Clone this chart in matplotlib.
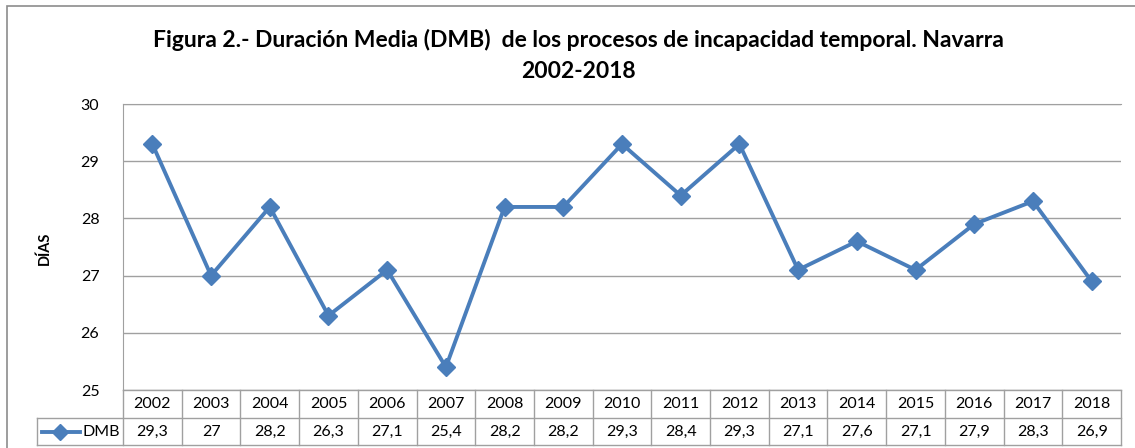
import matplotlib.pyplot as plt
from matplotlib.lines import Line2D
from matplotlib.patches import Rectangle

anios = ['2002', '2003', '2004', '2005', '2006', '2007', '2008', '2009', '2010',
         '2011', '2012', '2013', '2014', '2015', '2016', '2017', '2018']
dmb = [29.3, 27, 28.2, 26.3, 27.1, 25.4, 28.2, 28.2, 29.3,
       28.4, 29.3, 27.1, 27.6, 27.1, 27.9, 28.3, 26.9]
etiquetas_dmb = ['29,3', '27', '28,2', '26,3', '27,1', '25,4', '28,2', '28,2', '29,3',
                 '28,4', '29,3', '27,1', '27,6', '27,1', '27,9', '28,3', '26,9']

W, H = 1135, 448
azul = '#4a7ebb'
gris = '#8c8c8c'
fuente = 'Lato'
tam = 11.5

fig = plt.figure(figsize=(W / 100, H / 100), dpi=100)

# pasar de pixeles a fracción de figura
def fx(x):
    return x / W

def fy(y):
    return 1 - y / H

# marco exterior
fig.add_artist(Rectangle((fx(7), fy(470)), fx(1150), fy(6) - fy(470), transform=fig.transFigure,
                         fill=False, edgecolor=gris, lw=1.2))

izq, der, arriba, abajo = 123, 1121, 104, 390
ax = fig.add_axes([fx(izq), fy(abajo), fx(der - izq), fy(arriba) - fy(abajo)])
ax.plot(range(len(dmb)), dmb, color=azul, lw=2.8, marker='D', markersize=9.5)
ax.set_xlim(-0.5, len(dmb) - 0.5)
ax.set_ylim(25, 30)
ax.set_yticks([25, 26, 27, 28, 29, 30])
ax.set_xticks([])
ax.grid(axis='y', color='#a0a0a0', lw=1)
ax.set_axisbelow(True)
for s in ['right', 'bottom']:
    ax.spines[s].set_visible(False)
ax.spines['left'].set_color('#a0a0a0')
ax.spines['top'].set_color('#a0a0a0')
ax.tick_params(axis='y', length=0, pad=17, labelsize=tam)
for t in ax.get_yticklabels():
    t.set_fontfamily(fuente)

fig.text(fx(45), fy(248), 'DÍAS', rotation=90, ha='center', va='center',
         fontsize=10.5, fontweight='bold', family=fuente)

fig.text(fx(578), fy(40), 'Figura 2.- Duración Media (DMB)  de los procesos de incapacidad temporal. Navarra',
         ha='center', va='center', fontsize=16.5, fontweight='bold', family=fuente)
fig.text(fx(578), fy(72), '2002-2018', ha='center', va='center', fontsize=16.5,
         fontweight='bold', family=fuente)

# tabla de datos bajo el gráfico
ancho = (der - izq) / len(anios)
fila1, fila2, fila3 = 390, 418, 445
lineas = [((izq, der), (fila1, fila1)), ((37, der), (fila2, fila2)), ((37, der), (fila3, fila3)),
          ((37, 37), (fila2, fila3))]
for i in range(len(anios) + 1):
    x = izq + i * ancho
    lineas.append(((x, x), (fila1, fila3)))
for xs, ys in lineas:
    fig.add_artist(Line2D([fx(v) for v in xs], [fy(v) for v in ys], transform=fig.transFigure,
                          color='#a0a0a0', lw=1))

for i, (a, v) in enumerate(zip(anios, etiquetas_dmb)):
    xc = fx(izq + (i + 0.5) * ancho)
    fig.text(xc, fy((fila1 + fila2) / 2), a, ha='center', va='center', fontsize=tam, family=fuente)
    fig.text(xc, fy((fila2 + fila3) / 2), v, ha='center', va='center', fontsize=tam, family=fuente)

# leyenda dentro de la tabla
yc = fy((fila2 + fila3) / 2)
fig.add_artist(Line2D([fx(42), fx(80)], [yc, yc], transform=fig.transFigure, color=azul, lw=2.8))
fig.add_artist(Line2D([fx(60)], [yc], transform=fig.transFigure, color=azul, marker='D', markersize=8))
fig.text(fx(82), yc, 'DMB', ha='left', va='center', fontsize=tam, family=fuente)

fig.savefig('out.png', dpi=100)
